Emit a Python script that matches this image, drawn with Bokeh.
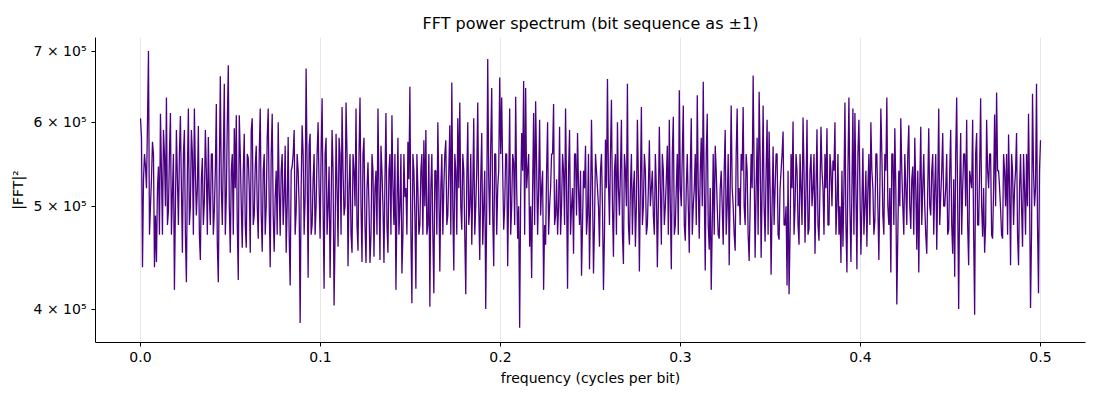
from bokeh.plotting import figure
from bokeh.models import Range1d, FixedTicker, CustomJSTickFormatter, PrintfTickFormatter
from bokeh.embed import file_html
from bokeh.resources import INLINE
import numpy as np

# |FFT|^2 values, in thousands.
# power_even_k: values at the even sample positions, power_odd_k: the samples between them.
power_even_k = [
    605, 438, 560, 520, 700, 500, 575, 438, 443, 545,
    611, 470, 560, 633, 495, 612, 515, 417, 590, 480,
    608, 452, 590, 424, 618, 500, 560, 618, 490, 595,
    445, 555, 505, 540, 581, 480, 560, 495, 624, 424,
    663, 480, 652, 510, 679, 452, 560, 592, 609, 426,
    560, 457, 585, 457, 555, 452, 605, 490, 570, 466,
    618, 453, 560, 500, 618, 438, 611, 453, 540, 600,
    469, 560, 510, 452, 581, 421, 545, 590, 494, 540,
    388, 596, 470, 674, 428, 585, 480, 560, 500, 600,
    466, 632, 418, 580, 500, 428, 590, 403, 585, 458,
    560, 620, 490, 626, 439, 560, 452, 540, 618, 454,
    633, 443, 580, 442, 550, 442, 560, 448, 540, 618,
    445, 540, 442, 612, 452, 560, 609, 480, 417, 580,
    500, 432, 560, 520, 575, 648, 405, 540, 418, 520,
    480, 560, 577, 590, 480, 402, 560, 414, 540, 600,
    434, 560, 520, 577, 490, 596, 654, 435, 540, 605,
    626, 475, 540, 413, 600, 500, 460, 605, 500, 626,
    445, 586, 500, 400, 688, 480, 646, 439, 560, 520,
    661, 633, 475, 560, 439, 618, 500, 550, 634, 466,
    384, 586, 656, 646, 540, 458, 428, 612, 628, 470,
    603, 520, 417, 460, 600, 500, 560, 624, 490, 470,
    594, 500, 540, 618, 418, 590, 500, 451, 560, 586,
    480, 430, 540, 570, 490, 436, 603, 432, 560, 520,
    458, 560, 417, 578, 659, 480, 630, 448, 560, 600,
    490, 603, 441, 540, 652, 460, 560, 520, 458, 603,
    434, 620, 500, 540, 480, 577, 520, 490, 560, 438,
    594, 460, 540, 500, 570, 603, 436, 607, 480, 560,
    643, 500, 622, 464, 560, 452, 605, 500, 560, 636,
    466, 580, 655, 435, 611, 455, 417, 560, 570, 500,
    466, 540, 460, 590, 500, 440, 622, 500, 454, 618,
    520, 560, 620, 480, 540, 444, 560, 664, 447, 580,
    641, 447, 622, 463, 603, 588, 431, 569, 520, 560,
    465, 540, 588, 480, 421, 413, 560, 601, 500, 540,
    460, 520, 606, 462, 603, 476, 560, 520, 451, 591,
    464, 594, 520, 560, 592, 480, 540, 552, 600, 500,
    470, 442, 458, 626, 433, 633, 443, 618, 612, 436,
    603, 450, 567, 500, 458, 560, 600, 520, 484, 560,
    445, 618, 490, 560, 633, 480, 433, 560, 592, 404,
    540, 605, 500, 560, 480, 596, 476, 545, 580, 455,
    433, 594, 520, 500, 451, 592, 490, 560, 520, 455,
    618, 510, 586, 500, 560, 475, 590, 451, 429, 633,
    400, 586, 520, 560, 603, 440, 530, 603, 395, 586,
    480, 632, 468, 452, 603, 520, 560, 466, 610, 640,
    540, 497, 466, 540, 560, 584, 440, 540, 520, 586,
    440, 560, 458, 520, 560, 611, 401, 638, 500, 652,
    414, 577,
]
power_odd_k = [
    580, 530, 545, 600, 470, 530, 560, 490, 520, 470,
    540, 590, 500, 480, 560, 470, 560, 500, 530, 560,
    520, 560, 470, 540, 480, 590, 470, 540, 520, 470,
    530, 480, 590, 470, 510, 560, 470, 540, 460, 540,
    520, 560, 470, 600, 500, 540, 470, 520, 480, 609,
    500, 540, 480, 560, 520, 590, 480, 545, 500, 560,
    490, 540, 470, 580, 500, 560, 490, 510, 470, 520,
    540, 480, 570, 500, 470, 540, 560, 470, 560, 500,
    520, 560, 510, 540, 570, 470, 530, 470, 560, 520,
    560, 500, 560, 470, 545, 500, 540, 470, 520, 580,
    470, 540, 500, 560, 520, 470, 560, 500, 480, 560,
    500, 560, 480, 520, 500, 470, 540, 520, 470, 520,
    570, 500, 530, 480, 540, 470, 520, 560, 500, 470,
    560, 470, 510, 470, 530, 470, 560, 490, 560, 470,
    540, 470, 500, 470, 560, 520, 470, 540, 470, 520,
    520, 470, 560, 480, 540, 470, 500, 560, 470, 520,
    500, 560, 470, 530, 480, 560, 520, 470, 540, 500,
    530, 460, 540, 500, 530, 570, 490, 560, 470, 540,
    560, 540, 500, 560, 520, 470, 560, 480, 520, 500,
    510, 540, 470, 520, 560, 500, 520, 480, 545, 520,
    490, 540, 480, 540, 470, 520, 560, 480, 530, 500,
    470, 560, 480, 520, 540, 470, 520, 560, 490, 520,
    540, 480, 520, 470, 560, 500, 520, 480, 540, 500,
    540, 500, 470, 520, 530, 560, 500, 540, 470, 520,
    540, 470, 560, 500, 480, 520, 470, 540, 500, 530,
    520, 480, 560, 470, 520, 500, 540, 470, 520, 500,
    520, 560, 480, 530, 470, 500, 560, 470, 520, 470,
    520, 560, 480, 520, 500, 540, 470, 520, 480, 520,
    540, 500, 520, 560, 480, 520, 480, 470, 540, 470,
    520, 500, 540, 470, 560, 520, 520, 470, 560, 500,
    480, 540, 500, 560, 470, 500, 520, 540, 520, 470,
    560, 520, 500, 540, 470, 520, 500, 480, 560, 470,
    520, 560, 480, 500, 540, 470, 520, 470, 560, 480,
    560, 480, 540, 520, 470, 540, 500, 560, 520, 480,
    520, 540, 470, 520, 480, 560, 500, 540, 470, 560,
    500, 540, 520, 480, 540, 500, 520, 470, 520, 560,
    520, 500, 470, 540, 520, 480, 540, 470, 560, 500,
    520, 560, 470, 540, 500, 520, 560, 480, 520, 470,
    500, 540, 470, 520, 560, 500, 530, 470, 520, 540,
    520, 480, 560, 470, 520, 500, 540, 470, 560, 520,
    480, 540, 500, 520, 470, 540, 480, 530, 560, 500,
    520, 470, 560, 500, 480, 540, 520, 470, 560, 480,
    540, 500, 520, 480, 540, 560, 470, 520, 500, 540,
    520, 470, 560, 500, 470, 520, 560, 480, 540, 470,
    520, 500, 560, 470, 500, 520, 470, 540, 520, 480,
    540,
]

power_k = []
for i, v in enumerate(power_even_k):
    power_k.append(v)
    if i < len(power_odd_k):
        power_k.append(power_odd_k[i])
power = [v * 1000 for v in power_k]
freq = np.linspace(0.0, 0.5, len(power))

title_text = "FFT power spectrum (bit sequence as ±1)"
x_label = "frequency (cycles per bit)"
y_label = "|FFT|²"
x_ticks = [0.0, 0.1, 0.2, 0.3, 0.4, 0.5]
y_ticks = [400000, 500000, 600000, 700000]
y_tick_labels = ["4 × 10⁵", "5 × 10⁵", "6 × 10⁵", "7 × 10⁵"]

FONT = "DejaVu Sans"

p = figure(
    width=1100, height=400,
    y_axis_type="log",
    x_range=Range1d(-0.025, 0.525),
    y_range=Range1d(372000, 721000),
    output_backend="svg", toolbar_location=None,
    min_border_left=95, min_border_right=15, min_border_top=37, min_border_bottom=58,
)
p.title.text = title_text
p.title.align = "center"
p.title.text_font = FONT
p.title.text_font_size = "16px"
p.title.text_font_style = "normal"
p.title.text_color = "black"

p.line(freq, power, line_color="#4b0082", line_width=1.3)

p.outline_line_color = None
p.background_fill_color = "white"
p.border_fill_color = "white"

p.xgrid.grid_line_color = "#e6e6e6"
p.xgrid.ticker = FixedTicker(ticks=x_ticks)
p.ygrid.grid_line_color = None

p.xaxis.ticker = FixedTicker(ticks=x_ticks)
p.xaxis.formatter = PrintfTickFormatter(format="%.1f")
p.yaxis.ticker = FixedTicker(ticks=y_ticks)
p.yaxis.formatter = CustomJSTickFormatter(
    args=dict(vals=y_ticks, labs=y_tick_labels),
    code="""
    let best = -1, bd = Infinity;
    for (let i = 0; i < vals.length; i++) {
        const d = Math.abs(vals[i] - tick);
        if (d < bd) { bd = d; best = i; }
    }
    return (best >= 0 && bd < 1) ? labs[best] : "";
    """,
)

for ax in (p.xaxis, p.yaxis):
    ax.axis_line_color = "black"
    ax.major_tick_line_color = "black"
    ax.major_tick_out = 4
    ax.major_tick_in = 0
    ax.minor_tick_line_color = None
    ax.major_label_standoff = 5
    ax.major_label_text_font = FONT
    ax.major_label_text_font_size = "14px"
    ax.major_label_text_color = "black"
    ax.axis_label_text_font = FONT
    ax.axis_label_text_font_size = "14px"
    ax.axis_label_text_font_style = "normal"
    ax.axis_label_text_color = "black"

p.xaxis.axis_label = x_label
p.yaxis.axis_label = y_label
p.yaxis.major_label_orientation = "horizontal"

open("out.html", "w").write(file_html(p, INLINE))
